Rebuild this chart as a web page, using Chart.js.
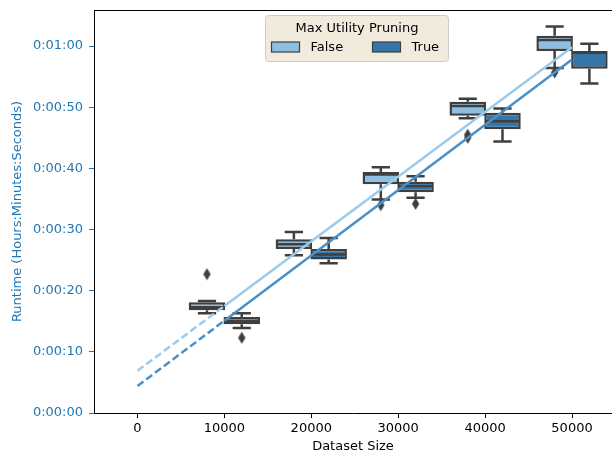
<!DOCTYPE html>
<html>
<head>
<meta charset="utf-8">
<script src="https://cdn.jsdelivr.net/npm/chart.js@4.4.1/dist/chart.umd.min.js"></script>
<style>
  html, body { margin: 0; padding: 0; background: #fff; overflow: hidden; }
  #wrap { width: 612px; height: 455px; }
  #runtimeChart { display: block; }
</style>
</head>
<body>
<div id="wrap"><canvas id="runtimeChart" width="612" height="455"></canvas></div>
<script>
'use strict'

// dataset sizes and runtimes in seconds
let sizes = [10000, 20000, 30000, 40000, 50000];

let falseLo = [16.3, 25.8, 34.9, 48.2, 56.4];
let falseQ1 = [16.8, 26.8, 37.4, 48.6, 59.2];
let falseMed = [17.3, 27.6, 39.0, 50.2, 61.0];
let falseQ3 = [18.1, 28.4, 39.4, 50.9, 61.7];
let falseHi = [18.3, 29.6, 40.2, 51.4, 63.2];
let falseOut = [[22.7], [], [34.0], [45.5, 45.0], [55.7]];

let trueLo = [13.9, 24.5, 35.2, 44.4, 53.9];
let trueQ1 = [14.5, 25.1, 36.1, 46.4, 56.3];
let trueMed = [15.0, 25.9, 37.1, 47.7, 58.9];
let trueQ3 = [15.7, 26.8, 37.8, 49.1, 59.2];
let trueHi = [16.3, 28.6, 38.7, 49.8, 60.4];
let trueOut = [[12.3], [], [34.2], [], []];

// fitted trend lines, dashed before the first size
let fitX = [0, 10000, 50000];
let falseFit = [6.9, 17.5, 59.8];
let trueFit = [4.4, 15.1, 57.8];

let xTicks = [0, 10000, 20000, 30000, 40000, 50000];
let yTicks = [0, 10, 20, 30, 40, 50, 60];

let dodge = 2000;
let edge = '#3f3f3f';
let lightFill = '#8dbfe2';
let darkFill = '#3476aa';
let lightLine = '#9bcbec';
let darkLine = '#4a90c8';
let tickBlue = '#1f77b4';

Chart.defaults.font.family = 'DejaVu Sans';
Chart.defaults.font.size = 13;

function hms(sec) {
    let s = Math.round(sec);
    let h = Math.floor(s / 3600);
    let m = Math.floor((s % 3600) / 60);
    let ss = s % 60;
    return h + ':' + String(m).padStart(2, '0') + ':' + String(ss).padStart(2, '0');
}

function boxData(q1, q3, shift) {
    return sizes.map(function (s, i) {
        return { x: s + shift, y: [q1[i], q3[i]] };
    });
}

function outData(out, shift) {
    let pts = [];
    for (let i = 0; i < sizes.length; i++) {
        for (let j = 0; j < out[i].length; j++) {
            pts.push({ x: sizes[i] + shift, y: out[i][j] });
        }
    }
    return pts;
}

function fitData(vals) {
    return fitX.map(function (x, i) { return { x: x, y: vals[i] }; });
}

// thin diamond used for the fliers
let diamond = document.createElement('canvas');
diamond.width = 9;
diamond.height = 13;
let dctx = diamond.getContext('2d');
dctx.fillStyle = edge;
dctx.beginPath();
dctx.moveTo(4.5, 0.5);
dctx.lineTo(8.2, 6.5);
dctx.lineTo(4.5, 12.5);
dctx.lineTo(0.8, 6.5);
dctx.closePath();
dctx.fill();

let whiskerSets = [
    { lo: falseLo, med: falseMed, hi: falseHi, q1: falseQ1, q3: falseQ3 },
    { lo: trueLo, med: trueMed, hi: trueHi, q1: trueQ1, q3: trueQ3 }
];

// whiskers, caps and medians on top of each box dataset
let boxParts = {
    id: 'boxParts',
    afterDatasetDraw(chart, args) {
        if (args.index > 1) return;
        let st = whiskerSets[args.index];
        let y = chart.scales.y;
        let ctx = chart.ctx;
        let bars = args.meta.data;
        ctx.save();
        ctx.strokeStyle = edge;
        ctx.lineWidth = 2.5;
        ctx.lineCap = 'butt';
        for (let i = 0; i < bars.length; i++) {
            let bx = bars[i].x;
            let w = bars[i].width;
            let yLo = y.getPixelForValue(st.lo[i]);
            let yHi = y.getPixelForValue(st.hi[i]);
            let yQ1 = y.getPixelForValue(st.q1[i]);
            let yQ3 = y.getPixelForValue(st.q3[i]);
            let yMed = y.getPixelForValue(st.med[i]);
            ctx.beginPath();
            ctx.moveTo(bx, yQ1); ctx.lineTo(bx, yLo);
            ctx.moveTo(bx, yQ3); ctx.lineTo(bx, yHi);
            ctx.moveTo(bx - w / 4, yLo); ctx.lineTo(bx + w / 4, yLo);
            ctx.moveTo(bx - w / 4, yHi); ctx.lineTo(bx + w / 4, yHi);
            ctx.moveTo(bx - w / 2 + 1, yMed); ctx.lineTo(bx + w / 2 - 1, yMed);
            ctx.stroke();
        }
        ctx.restore();
    }
};

// top spine and the legend box
let frame = {
    id: 'frame',
    afterDraw(chart) {
        let ctx = chart.ctx;
        let a = chart.chartArea;
        ctx.save();
        ctx.strokeStyle = '#000';
        ctx.lineWidth = 1;
        ctx.beginPath();
        ctx.moveTo(a.left, a.top + 0.5);
        ctx.lineTo(a.right, a.top + 0.5);
        ctx.stroke();

        let lx = a.left + 171.5, ly = 15.5, lw = 183, lh = 46;
        ctx.fillStyle = 'rgba(240, 234, 220, 0.95)';
        ctx.strokeStyle = '#cccccc';
        ctx.beginPath();
        ctx.roundRect(lx, ly, lw, lh, 3);
        ctx.fill();
        ctx.stroke();

        ctx.fillStyle = '#000';
        ctx.textBaseline = 'middle';
        ctx.textAlign = 'center';
        ctx.font = '13px "DejaVu Sans"';
        ctx.fillText('Max Utility Pruning', lx + lw / 2, ly + 13);

        let items = [['False', lightFill, lx + 6], ['True', darkFill, lx + 107]];
        ctx.textAlign = 'left';
        ctx.lineWidth = 1.2;
        for (let k = 0; k < items.length; k++) {
            let px = items[k][2];
            ctx.fillStyle = items[k][1];
            ctx.strokeStyle = edge;
            ctx.fillRect(px, ly + 26.5, 28, 10);
            ctx.strokeRect(px, ly + 26.5, 28, 10);
            ctx.fillStyle = '#000';
            ctx.fillText(items[k][0], px + 39, ly + 32);
        }
        ctx.restore();
    }
};

let ctx = document.getElementById('runtimeChart').getContext('2d');
let runtimeChart = new Chart(ctx, {
    type: 'bar',
    data: {
        datasets: [{
            label: 'False',
            data: boxData(falseQ1, falseQ3, -dodge),
            backgroundColor: lightFill,
            borderColor: edge,
            borderWidth: 2.5,
            borderSkipped: false,
            grouped: false,
            barPercentage: 1.05,
            categoryPercentage: 1,
            order: 3
        },
        {
            label: 'True',
            data: boxData(trueQ1, trueQ3, dodge),
            backgroundColor: darkFill,
            borderColor: edge,
            borderWidth: 2.5,
            borderSkipped: false,
            grouped: false,
            barPercentage: 1.05,
            categoryPercentage: 1,
            order: 3
        },
        {
            type: 'scatter',
            label: 'False outliers',
            data: outData(falseOut, -dodge),
            pointStyle: diamond,
            order: 2
        },
        {
            type: 'scatter',
            label: 'True outliers',
            data: outData(trueOut, dodge),
            pointStyle: diamond,
            order: 2
        },
        {
            type: 'line',
            label: 'False trend',
            data: fitData(falseFit),
            borderColor: lightLine,
            borderWidth: 2.5,
            pointRadius: 0,
            segment: { borderDash: c => c.p0DataIndex === 0 ? [7.5, 3.5] : undefined },
            order: 1
        },
        {
            type: 'line',
            label: 'True trend',
            data: fitData(trueFit),
            borderColor: darkLine,
            borderWidth: 2.5,
            pointRadius: 0,
            segment: { borderDash: c => c.p0DataIndex === 0 ? [7.5, 3.5] : undefined },
            order: 1
        }]
    },
    options: {
        responsive: false,
        animation: false,
        devicePixelRatio: 1,
        layout: { autoPadding: false, padding: { left: 0, right: 0, top: 10, bottom: 0 } },
        plugins: {
            legend: { display: false },
            tooltip: { enabled: false }
        },
        scales: {
            x: {
                type: 'linear',
                offset: false,
                min: -5000,
                max: 54600,
                afterBuildTicks: s => { s.ticks = xTicks.map(v => ({ value: v })); },
                afterFit: s => { s.height = 42; s.paddingLeft = 0; s.paddingRight = 0; },
                grid: { display: true, offset: false, drawOnChartArea: false, tickLength: 5, tickColor: '#000' },
                border: { display: true, color: '#000', width: 1 },
                ticks: { color: '#000', padding: 3, maxRotation: 0, callback: v => String(v) },
                title: { display: true, text: 'Dataset Size', color: '#000', padding: { top: 0, bottom: 1 } }
            },
            y: {
                type: 'linear',
                min: 0,
                max: 65.9,
                afterBuildTicks: s => { s.ticks = yTicks.map(v => ({ value: v })); },
                afterFit: s => { s.width = 94; s.paddingTop = 0; s.paddingBottom = 0; },
                grid: { display: true, drawOnChartArea: false, tickLength: 5, tickColor: tickBlue },
                border: { display: true, color: '#000', width: 1 },
                ticks: { color: tickBlue, padding: 6, callback: v => hms(v) },
                title: { display: true, text: 'Runtime (Hours:Minutes:Seconds)', color: tickBlue, padding: { top: 10, bottom: 0 } }
            }
        }
    },
    plugins: [boxParts, frame]
});
</script>
</body>
</html>
